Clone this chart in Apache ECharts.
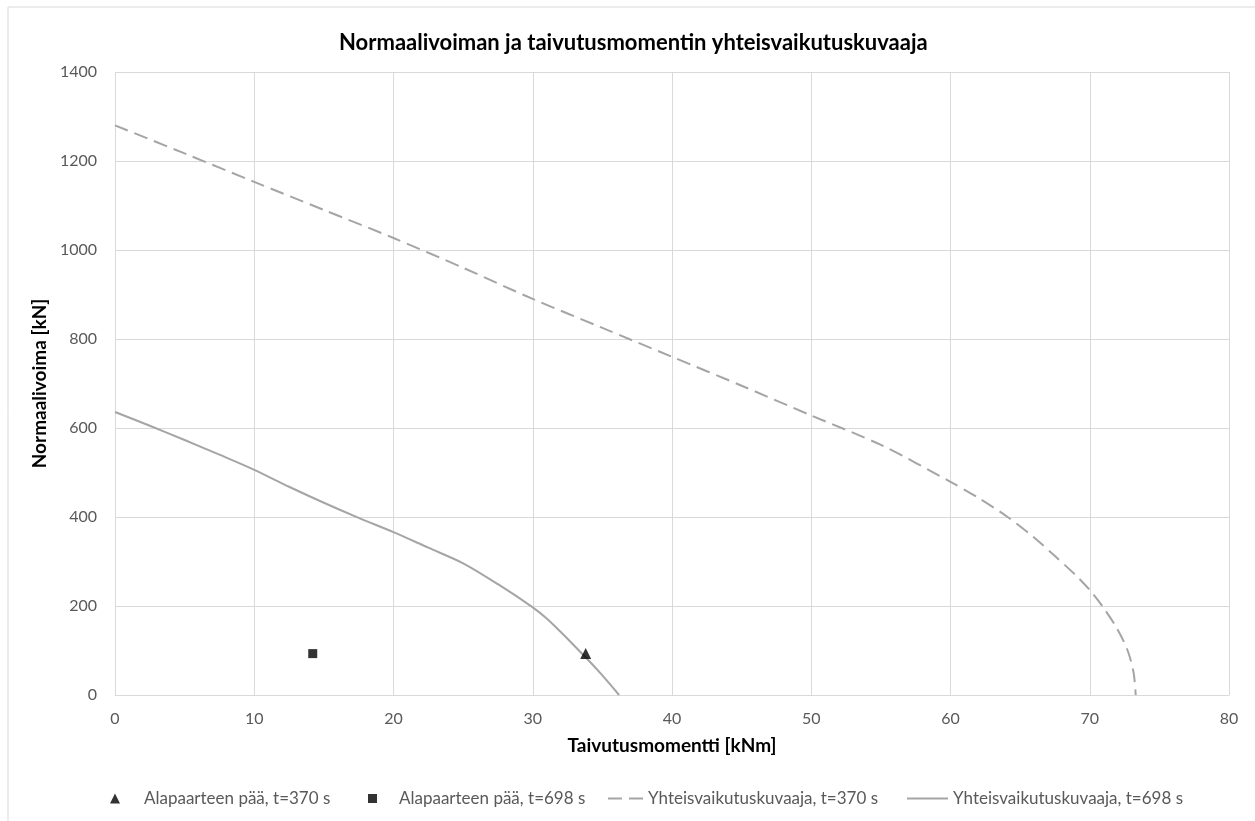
<!DOCTYPE html>
<html>
<head>
<meta charset="utf-8">
<script src="https://cdn.jsdelivr.net/npm/echarts@6/dist/echarts.min.js"></script>
<style>
  html, body { margin: 0; padding: 0; background: #fff; }
  #chart { width: 1255px; height: 821px; }
</style>
</head>
<body>
<div id="chart"></div>
<script>
// Taivutusmomentti [kNm] vs. normaalivoima [kN]
const xTicks = [0, 10, 20, 30, 40, 50, 60, 70, 80];
const yTicks = [0, 200, 400, 600, 800, 1000, 1200, 1400];

// Yhteisvaikutuskuvaaja, t=370 s
const curve370 = [
  [0, 1280], [5, 1217], [10, 1153], [15, 1090], [20, 1027], [25, 960],
  [30, 890], [35, 825], [40, 760], [45, 695], [50, 628], [55, 562],
  [60, 479], [62, 443], [64.1, 400], [66, 354], [67.4, 315], [69, 269],
  [70, 236], [70.9, 200], [71.95, 150], [72.72, 100], [73.15, 50], [73.3, 0]
];

// Yhteisvaikutuskuvaaja, t=698 s
const curve698 = [
  [0, 636], [2.5, 605], [5, 573], [7.5, 540], [10, 506], [12.5, 468],
  [15, 432], [17.5, 398], [20, 366], [22.5, 331], [25, 296], [27.5, 249],
  [30, 197], [31, 172], [32, 142], [33, 110], [34, 78], [35, 44], [36.2, 0]
];

// Alapaarteen pää
const point370 = [[33.8, 93]];
const point698 = [[14.2, 93]];

const names = [
  'Alapaarteen pää, t=370 s',
  'Alapaarteen pää, t=698 s',
  'Yhteisvaikutuskuvaaja, t=370 s',
  'Yhteisvaikutuskuvaaja, t=698 s'
];

const FONT = 'Lato, "Open Sans", "Liberation Sans", sans-serif';
const TXT = '#595959';
const GRIDC = '#d9d9d9';
const LINEC = '#a5a5a5';

const chart = echarts.init(document.getElementById('chart'), null, { renderer: 'canvas' });

function legendItem(name, icon, left, w, h, pad) {
  return {
    data: [{ name: name, icon: icon }],
    left: left,
    top: 785,
    itemWidth: w,
    itemHeight: h,
    selectedMode: false,
    textStyle: { fontFamily: FONT, fontSize: 17, color: TXT, padding: [0, 0, 0, pad] }
  };
}

chart.setOption({
  animation: false,
  backgroundColor: '#fff',
  graphic: [{
    type: 'rect',
    shape: { x: 8, y: 7, width: 1270, height: 840 },
    style: { fill: 'none', stroke: GRIDC, lineWidth: 1 },
    silent: true
  }],
  title: {
    text: 'Normaalivoiman ja taivutusmomentin yhteisvaikutuskuvaaja',
    left: 334,
    top: 27,
    textStyle: { fontFamily: FONT, fontSize: 22, fontWeight: 'bold', color: '#000' }
  },
  grid: { left: 115, right: 26, top: 72, bottom: 126, containLabel: false },
  legend: [
    legendItem(names[0], 'triangle', 105, 10, 10, 19),
    legendItem(names[1], 'rect', 363, 9, 9, 17),
    legendItem(names[2], 'path://M0,0h14v2h-14zM21,0h14v2h-14z', 603, 35, 2, 0),
    legendItem(names[3], 'rect', 902, 41, 2, 0)
  ],
  xAxis: {
    type: 'value',
    min: xTicks[0],
    max: xTicks[xTicks.length - 1],
    interval: 10,
    name: 'Taivutusmomentti [kNm]',
    nameLocation: 'middle',
    nameGap: 41,
    nameTextStyle: { fontFamily: FONT, fontSize: 19, fontWeight: 'bold', color: '#000' },
    axisLine: { show: true, lineStyle: { color: GRIDC } },
    axisTick: { show: false },
    axisLabel: { fontFamily: FONT, fontSize: 16, color: TXT, margin: 16, formatter: v => String(v) },
    splitLine: { show: true, lineStyle: { color: GRIDC } }
  },
  yAxis: {
    type: 'value',
    min: yTicks[0],
    max: yTicks[yTicks.length - 1],
    interval: 200,
    name: 'Normaalivoima [kN]',
    nameLocation: 'middle',
    nameGap: 58,
    nameTextStyle: { fontFamily: FONT, fontSize: 19, fontWeight: 'bold', color: '#000' },
    axisLine: { show: false },
    axisTick: { show: false },
    axisLabel: { fontFamily: FONT, fontSize: 16, color: TXT, margin: 18, formatter: v => String(v) },
    splitLine: { show: true, lineStyle: { color: GRIDC } }
  },
  series: [
    {
      name: names[0],
      type: 'scatter',
      data: point370,
      symbol: 'triangle',
      symbolSize: 11,
      itemStyle: { color: '#000' },
      z: 5
    },
    {
      name: names[1],
      type: 'scatter',
      data: point698,
      symbol: 'rect',
      symbolSize: 9,
      itemStyle: { color: '#000' },
      z: 5
    },
    {
      name: names[2],
      type: 'line',
      data: curve370,
      showSymbol: false,
      symbol: 'none',
      smooth: 0.3,
      lineStyle: { color: LINEC, width: 2, type: [14, 7] },
      itemStyle: { color: LINEC }
    },
    {
      name: names[3],
      type: 'line',
      data: curve698,
      showSymbol: false,
      symbol: 'none',
      smooth: 0.3,
      lineStyle: { color: LINEC, width: 2 },
      itemStyle: { color: LINEC }
    }
  ]
});
</script>
</body>
</html>
